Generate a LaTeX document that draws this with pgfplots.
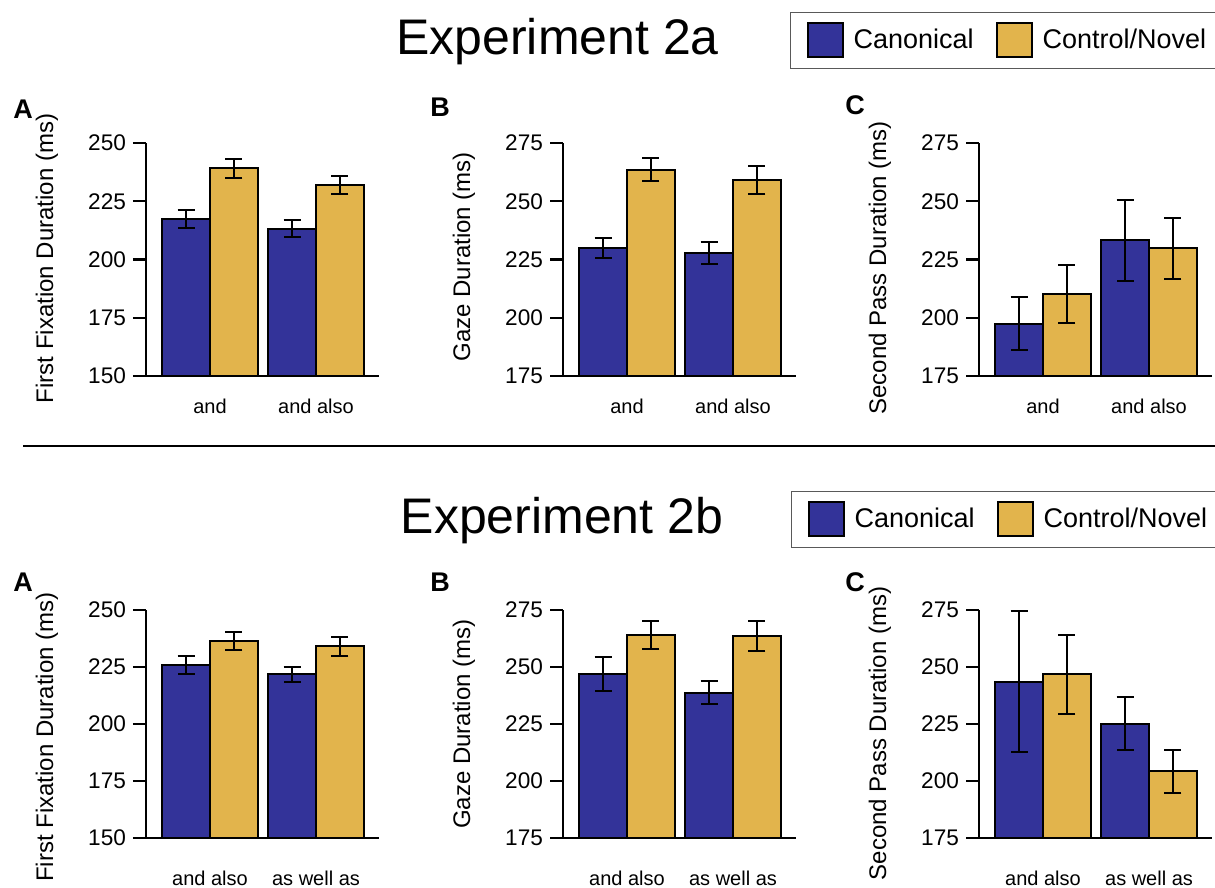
\documentclass[border=0pt]{standalone}
\usepackage{fontspec}
\setmainfont{Liberation Sans}
\usepackage{pgfplots}
\pgfplotsset{compat=1.18}
\definecolor{canon}{RGB}{51,51,153}
\definecolor{novel}{RGB}{226,180,76}
\pgfplotsset{
  panel/.style={
    scale only axis, width=116.5pt,
    xmin=0.396, xmax=2.594,
    axis x line=bottom, axis y line=left,
    axis line style={-, line width=1.2pt},
    xtick={1,2},
    xtick style={draw=none},
    ytick style={line width=1.2pt, black},
    tick align=outside, major tick length=6.5pt,
    minor tick num=0,
    ybar,
    /pgf/number format/assume math mode=true,
    yticklabel style={font=\fontsize{11.3}{13}\selectfont},
    xticklabel style={font=\fontsize{10}{12}\selectfont, anchor=base},
    ylabel style={font=\fontsize{12}{14}\selectfont, anchor=center},
    every axis plot/.append style={bar width=0.45, draw=black, line width=1pt,
      error bars/y dir=both, error bars/y explicit,
      error bars/error mark=|,
      error bars/error bar style={line width=1pt, black},
      error bars/error mark options={mark size=4.25pt, line width=1pt, black}},
  },
  toprow/.style={height=116.5pt, xticklabel style={yshift=-12pt}},
  botrow/.style={height=114pt, xticklabel style={yshift=-17pt}},
  lab/.style={ylabel style={at={(axis description cs:-0.425,#1)}}},
  leg/.style 2 args={
    legend style={at={(axis description cs:#1,#2)}, anchor=north west,
      draw=gray!70!black, line width=0.6pt, fill=white,
      inner xsep=8pt, inner ysep=5pt,
      font=\fontsize{13.5}{16}\selectfont, nodes={inner sep=0pt},
      /tikz/every odd column/.append style={column sep=5pt},
      /tikz/every even column/.append style={column sep=11pt}},
    legend columns=2,
    legend image code/.code={\draw[##1, line width=1pt] (0pt,-8.5pt) rectangle (17.5pt,8.5pt);},
  },
}
\begin{document}
\begin{tikzpicture}
\useasboundingbox (0,0) rectangle (607.5pt,-444pt);
% titles
\node[anchor=base, inner sep=0pt, font=\fontsize{25}{30}\selectfont] at (278.75pt,-27.5pt) {Experiment 2a};
\node[anchor=base, inner sep=0pt, font=\fontsize{25}{30}\selectfont] at (281pt,-266.5pt) {Experiment 2b};
\draw[line width=1.25pt] (11.5pt,-223pt) -- (610pt,-223pt);
% panel letters
\foreach \l/\x/\y in {A/6.5/59.5, B/215/58.3, C/422.5/57.3, A/6.5/295.8, B/215/295.8, C/422.5/295.5}
  \node[anchor=base west, inner sep=0pt, font=\bfseries\fontsize{13.5}{16}\selectfont] at (\x pt,-\y pt) {\l};

% ---------- Experiment 2a ----------
\begin{axis}[panel, toprow, lab=0.504, at={(73pt,-188pt)}, anchor=south west,
  ymin=150, ymax=250, ytick={150,175,...,250},
  xticklabels={and, and also}, ylabel={First Fixation Duration (ms)}]
\addplot[fill=canon, bar shift=-0.225] coordinates {(1,217.3) +- (0,3.9) (2,213.2) +- (0,3.6)};
\addplot[fill=novel, bar shift=0.225] coordinates {(1,239.1) +- (0,4.2) (2,232.0) +- (0,4.0)};
\end{axis}

\begin{axis}[panel, toprow, lab=0.511, at={(281.5pt,-188pt)}, anchor=south west,
  ymin=175, ymax=275, ytick={175,200,...,275},
  xticklabels={and, and also}, ylabel={Gaze Duration (ms)}]
\addplot[fill=canon, bar shift=-0.225] coordinates {(1,230.0) +- (0,4.4) (2,227.7) +- (0,4.7)};
\addplot[fill=novel, bar shift=0.225] coordinates {(1,263.6) +- (0,4.8) (2,259.3) +- (0,6.0)};
\end{axis}

\begin{axis}[panel, toprow, lab=0.464, at={(489.5pt,-188pt)}, anchor=south west,
  ymin=175, ymax=275, ytick={175,200,...,275},
  xticklabels={and, and also}, ylabel={Second Pass Duration (ms)},
  leg={-0.8112}{1.5635}]
\addplot[fill=canon, bar shift=-0.225] coordinates {(1,197.4) +- (0,11.4) (2,233.3) +- (0,17.4)};
\addplot[fill=novel, bar shift=0.225] coordinates {(1,210.3) +- (0,12.4) (2,229.9) +- (0,13.1)};
\legend{Canonical, Control/Novel}
\end{axis}

% ---------- Experiment 2b ----------
\begin{axis}[panel, botrow, lab=0.443, at={(73pt,-419pt)}, anchor=south west,
  ymin=150, ymax=250, ytick={150,175,...,250},
  xticklabels={and also, as well as}, ylabel={First Fixation Duration (ms)}]
\addplot[fill=canon, bar shift=-0.225] coordinates {(1,225.9) +- (0,3.8) (2,221.8) +- (0,3.4)};
\addplot[fill=novel, bar shift=0.225] coordinates {(1,236.4) +- (0,4.1) (2,234.1) +- (0,4.1)};
\end{axis}

\begin{axis}[panel, botrow, lab=0.5, at={(281.5pt,-419pt)}, anchor=south west,
  ymin=175, ymax=275, ytick={175,200,...,275},
  xticklabels={and also, as well as}, ylabel={Gaze Duration (ms)}]
\addplot[fill=canon, bar shift=-0.225] coordinates {(1,246.9) +- (0,7.3) (2,238.8) +- (0,5.0)};
\addplot[fill=novel, bar shift=0.225] coordinates {(1,263.9) +- (0,6.1) (2,263.6) +- (0,6.4)};
\end{axis}

\begin{axis}[panel, botrow, lab=0.458, at={(489.5pt,-419pt)}, anchor=south west,
  ymin=175, ymax=275, ytick={175,200,...,275},
  xticklabels={and also, as well as}, ylabel={Second Pass Duration (ms)},
  leg={-0.8069}{1.5232}]
\addplot[fill=canon, bar shift=-0.225] coordinates {(1,243.6) +- (0,31.0) (2,225.2) +- (0,11.6)};
\addplot[fill=novel, bar shift=0.225] coordinates {(1,246.9) +- (0,17.3) (2,204.2) +- (0,9.6)};
\legend{Canonical, Control/Novel}
\end{axis}
\end{tikzpicture}
\end{document}
